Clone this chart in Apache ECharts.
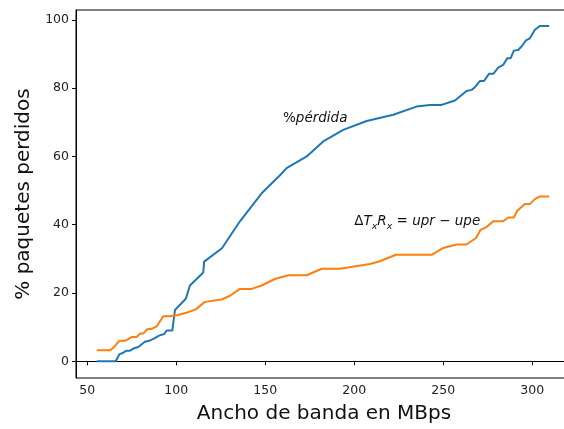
<!DOCTYPE html>
<html>
<head>
<meta charset="utf-8">
<script src="https://cdn.jsdelivr.net/npm/echarts@6/dist/echarts.min.js"></script>
<style>
html,body{margin:0;padding:0;background:#fff;}
#c{width:564px;height:429px;}
</style>
</head>
<body>
<div id="c"></div>
<script>
// Bandwidth (MBps) and % lost packets
const lossX = [55.4,66,68,70.2,72,74,76.2,78.7,82.4,84.8,88,90.3,93.3,94.6,97.8,99.3,105.4,107.7,115.2,115.7,125.7,135.8,148,158.3,162,173.3,182.6,193.8,207,221.9,235,242.5,249.1,256.6,263.1,266,267.8,270.6,272.9,275.7,278.1,280.9,283.7,286,287.9,289.7,292.1,294,296.5,298.7,301.5,304.3,309.5];
const lossY = [0,0,2,2.5,3.1,3.1,3.8,4.2,5.7,6.0,6.8,7.5,8,9,9,15,18.3,22.2,26,29.2,33.1,41,49.2,54.5,56.6,60,64.4,67.8,70.4,72.2,74.6,75.1,75.1,76.4,79.2,79.5,80.3,82.1,82.1,84.2,84.2,86,86.8,88.8,88.8,91,91.2,92.2,94,94.6,97.1,98.2,98.2];
const deltaX = [55.4,62.8,64.6,68,71.2,73,74.9,77.8,79.6,81.5,83.4,86.2,89,92.7,96.5,100.2,105.8,111,116.1,125.5,130.2,135.8,142.4,148,155.4,162.9,173.3,181.7,192,208.8,214.4,223.4,243.5,250,257.5,263.1,268.4,271,274,278.1,283.7,286.5,289.7,291.6,295.9,298.7,301.5,304.3,309.5];
const deltaY = [3.2,3.2,3.9,6,6,6.5,7.1,7.1,8.1,8.1,9.3,9.5,10.2,13.2,13.2,13.5,14.2,15.2,17.4,18.1,19.2,21.2,21.2,22.2,24.1,25.2,25.2,27.1,27.1,28.5,29.3,31.2,31.2,33.2,34.2,34.2,36.1,38.5,39.2,41,41,42.1,42.1,44.1,46.1,46.1,47.5,48.3,48.3];
const xTicks = [50,100,150,200,250,300];
const yTicks = [0,20,40,60,80,100];
const xName = 'Ancho de banda en MBps';
const yName = '% paquetes perdidos';
const lossLabelAt = [160, 70];
const deltaLabelAt = [200, 40];

const pair = (xs, ys) => xs.map((x, i) => [x, ys[i]]);
const FONT = 'DejaVu Sans';
const chart = echarts.init(document.getElementById('c'), null, {renderer: 'canvas'});
const mathRich = {
  n:  {fontFamily: FONT, fontSize: 13.5, color: '#111', lineHeight: 20, verticalAlign: 'middle'},
  i:  {fontFamily: FONT, fontSize: 13.5, fontStyle: 'italic', color: '#111', lineHeight: 20, verticalAlign: 'middle'},
  s:  {fontFamily: FONT, fontSize: 9.5, fontStyle: 'italic', color: '#111', lineHeight: 14, verticalAlign: 'bottom'}
};
chart.setOption({
  animation: false,
  grid: {left: 76, top: 10, width: 496, height: 368, outerBoundsMode: 'none', containLabel: false,
         show: true, borderColor: '#000', borderWidth: 1, backgroundColor: 'transparent'},
  xAxis: {
    type: 'value', min: 43.7, max: 322.35,
    name: xName, nameLocation: 'middle', nameGap: 26,
    nameTextStyle: {fontFamily: FONT, fontSize: 20, color: '#111'},
    axisLine: {show: true, lineStyle: {color: '#000', width: 1}},
    axisTick: {show: true, length: 4, lineStyle: {color: '#000'}, customValues: xTicks},
    axisLabel: {fontFamily: FONT, fontSize: 12.5, color: '#222', margin: 6, customValues: xTicks},
    splitLine: {show: false}
  },
  yAxis: {
    type: 'value', min: -4.9, max: 102.9,
    name: yName, nameLocation: 'middle', nameGap: 42, nameRotate: 90,
    nameTextStyle: {fontFamily: FONT, fontSize: 20, color: '#111'},
    axisLine: {show: true, lineStyle: {color: '#000', width: 1}},
    axisTick: {show: true, length: 4, lineStyle: {color: '#000'}, customValues: yTicks},
    axisLabel: {fontFamily: FONT, fontSize: 12.5, color: '#222', margin: 7, customValues: yTicks},
    splitLine: {show: false}
  },
  series: [
    {
      type: 'line', data: pair(lossX, lossY), showSymbol: false, symbol: 'none',
      lineStyle: {color: '#1f77b4', width: 2}, itemStyle: {color: '#1f77b4'},
      markPoint: {
        silent: true, symbol: 'circle', symbolSize: 0,
        data: [{coord: lossLabelAt, value: 0,
          label: {show: true, position: 'right', distance: 0, offset: [0, -4],
            formatter: '{n|%}{i|pérdida}', rich: mathRich}}]
      }
    },
    {
      type: 'line', data: pair(deltaX, deltaY), showSymbol: false, symbol: 'none',
      lineStyle: {color: '#ff7f0e', width: 2}, itemStyle: {color: '#ff7f0e'},
      markPoint: {
        silent: true, symbol: 'circle', symbolSize: 0,
        data: [{coord: deltaLabelAt, value: 0,
          label: {show: true, position: 'right', distance: 0, offset: [0, -3],
            formatter: '{n|Δ}{i|T}{s|x}{i|R}{s|x}{n| = }{i|upr}{n| − }{i|upe}', rich: mathRich}}]
      }
    }
  ]
});
</script>
</body>
</html>
